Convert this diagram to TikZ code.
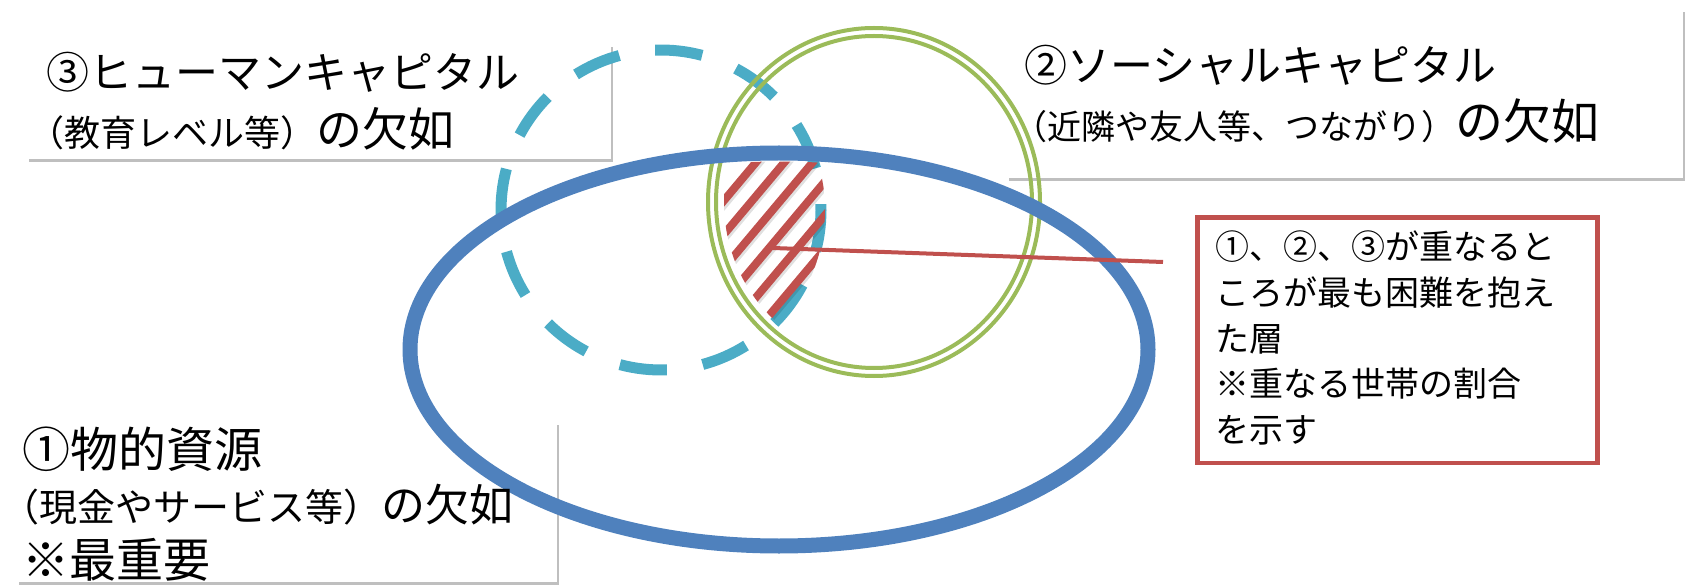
\documentclass[tikz,border=0pt]{standalone}
\usepackage{fontspec}
\setmainfont{Noto Sans CJK JP}
\usetikzlibrary{shadows}

\definecolor{ellblue}{HTML}{4F81BD}
\definecolor{ringgreen}{HTML}{9BBB59}
\definecolor{dashcyan}{HTML}{4BACC6}
\definecolor{hatchred}{HTML}{C0504D}

\newcommand{\fs}[1]{\fontsize{#1}{#1}\selectfont}

\tikzset{
	capbox/.style={fill=white, inner sep=0pt, anchor=north west,
		drop shadow={shadow xshift=1.5pt, shadow yshift=-3pt, opacity=0.25, fill=black}},
	txt/.style={inner sep=0pt, anchor=base west},
	hatchline/.style={hatchred, line width=8},
	dashring/.style={dashcyan, line width=11},
}

\begin{document}
\begin{tikzpicture}[x=1pt, y=-1pt]
\useasboundingbox (0,0) rectangle (1692,585);

%boxes
\node[capbox, minimum width=584, minimum height=115] (humanbox) at (27,44) {};
\node[capbox, minimum width=676, minimum height=169] (socialbox) at (1007,9) {};
\node[capbox, minimum width=540, minimum height=160] (materialbox) at (17,422) {};
\node[draw=hatchred, line width=4.5, fill=white, inner sep=0pt, anchor=north west,
	minimum width=400, minimum height=245] (notebox) at (1195,215.5) {};

%circles
\coordinate (ringctr) at (661,210);
\foreach \a in {0,30,...,330} {
	\pgfmathsetmacro{\b}{\a+15.1}
	\draw[dashring] ([shift={(-\b:160)}]ringctr) arc[start angle=-\b, end angle=-\b-17, radius=160];
}
\draw[ringgreen, line width=4] (874,202) ellipse[x radius=166, y radius=174];
\draw[ringgreen, line width=4] (874,202) ellipse[x radius=158, y radius=166];
\draw[ellblue, line width=15] (779,349.5) ellipse[x radius=369, y radius=196.5];

%hatch
\begin{scope}
\clip (874,202) ellipse[x radius=150, y radius=158];
\clip (661,210) circle[radius=164];
\clip (779,349.5) ellipse[x radius=361, y radius=188];
\foreach \k in {0,...,5} {
	\pgfmathsetmacro{\px}{775+0.766*(683.5+21.7*\k-744.75)}
	\pgfmathsetmacro{\py}{235+0.643*(683.5+21.7*\k-744.75)}
	\draw[black, opacity=0.12, line width=8]
		(\px-96.45+1.5, \py+114.9+2.5) -- (\px+96.45+1.5, \py-114.9+2.5);
	\draw[hatchline]
		(\px-96.45, \py+114.9) -- (\px+96.45, \py-114.9);
}
\end{scope}

\coordinate (hatchpt) at (773,248);
\coordinate (lineend) at (1163,262);
\draw[hatchred, line width=4] (hatchpt) -- (lineend);

%texts
\node[txt, font=\fs{43}] (humantitle) at (46,89) {③ヒューマンキャピタル};
\node[txt] (humannote) at (28,147) {\fs{36}（教育レベル等）\fs{46}の欠如};

\node[txt, font=\fs{43}] (socialtitle) at (1024,82) {②ソーシャルキャピタル};
\node[txt] (socialnote) at (1013,140) {\fs{34}（近隣や友人等、つながり）\fs{48}の欠如};

\node[txt, font=\fs{48}] (materialtitle) at (22,467) {①物的資源};
\node[txt] (materialnote) at (1,521) {\fs{38}（現金やサービス等）\fs{44}の欠如};
\node[txt, font=\fs{47}] (materialmark) at (22,577) {※最重要};

\node[inner sep=0pt, anchor=west, align=left, font=\fontsize{34}{45.7}\selectfont]
	(notetext) at (1215,338) {①、②、③が重なると\\ころが最も困難を抱え\\た層\\※重なる世帯の割合\\を示す};

\end{tikzpicture}
\end{document}
